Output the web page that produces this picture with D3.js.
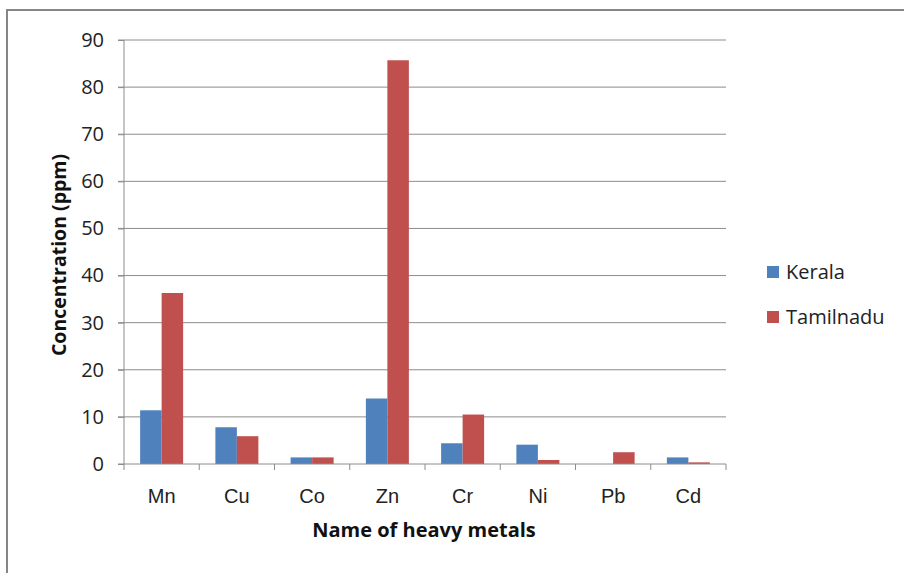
<!DOCTYPE html>
<html>
<head>
<meta charset="utf-8">
<script src="https://cdn.jsdelivr.net/npm/d3@7"></script>
<style>
  html, body { margin: 0; padding: 0; background: #fff; }
  svg { display: block; font-family: "Open Sans", "Noto Sans", sans-serif; }
</style>
</head>
<body>
<svg id="chart" width="904" height="573"></svg>
<script>
// Heavy metal concentrations (ppm) by state
const metals = ["Mn", "Cu", "Co", "Zn", "Cr", "Ni", "Pb", "Cd"];
const kerala = [11.4, 7.8, 1.4, 13.9, 4.4, 4.1, 0, 1.4];
const tamilnadu = [36.3, 5.9, 1.4, 85.7, 10.5, 0.85, 2.5, 0.35];
const seriesNames = ["Kerala", "Tamilnadu"];
const seriesColors = ["#4F81BD", "#C0504D"];
const yTicks = [0, 10, 20, 30, 40, 50, 60, 70, 80, 90];

const svg = d3.select("#chart");

// outer chart frame
svg.append("path")
  .attr("d", "M7,573 V10 H904")
  .attr("fill", "none")
  .attr("stroke", "#868686")
  .attr("stroke-width", 2);

const plot = { left: 124, right: 726, top: 40, bottom: 464 };

const x = d3.scaleBand().domain(metals).range([plot.left, plot.right]);
const y = d3.scaleLinear().domain([0, 90]).range([plot.bottom, plot.top]);

// horizontal gridlines
svg.append("g")
  .selectAll("line")
  .data(yTicks.filter(d => d > 0))
  .join("line")
  .attr("x1", plot.left - 6)
  .attr("x2", plot.right)
  .attr("y1", d => y(d))
  .attr("y2", d => y(d))
  .attr("stroke", "#8c8c8c")
  .attr("stroke-width", 1);

// bars: two per category, Excel-style 150% gap
const barW = x.bandwidth() / 3.5;
const inner = d3.scaleBand().domain(seriesNames)
  .range([0.75 * barW, 2.75 * barW]);
const seriesData = [kerala, tamilnadu];

seriesNames.forEach((name, si) => {
  svg.append("g")
    .selectAll("rect")
    .data(metals.map((m, i) => ({ m, v: seriesData[si][i] })))
    .join("rect")
    .attr("x", d => x(d.m) + inner(name))
    .attr("y", d => y(d.v))
    .attr("width", inner.bandwidth())
    .attr("height", d => y(0) - y(d.v))
    .attr("fill", seriesColors[si]);
});

// y axis
const yAxis = svg.append("g")
  .attr("transform", `translate(${plot.left},0)`)
  .call(d3.axisLeft(y).tickValues(yTicks).tickSize(6).tickPadding(14));
yAxis.select(".domain").attr("stroke", "#8c8c8c").attr("d", `M0,${plot.top}V${plot.bottom}`);
yAxis.selectAll(".tick line").attr("stroke", "#8c8c8c");
yAxis.selectAll(".tick text")
  .attr("font-size", 20)
  .attr("fill", "#222")
  .style("font-family", "'Open Sans', sans-serif");

// x axis
const xAxis = svg.append("g")
  .attr("transform", `translate(0,${plot.bottom})`)
  .call(d3.axisBottom(x).tickSize(0).tickPadding(25));
xAxis.select(".domain").attr("stroke", "#8c8c8c").attr("d", `M${plot.left - 6},0H${plot.right}`);
xAxis.selectAll(".tick text")
  .attr("font-size", 20)
  .attr("fill", "#222");

// category separators on the x axis
svg.append("g")
  .selectAll("line")
  .data(metals.map((m, i) => i).concat([metals.length]))
  .join("line")
  .attr("x1", i => i < metals.length ? x(metals[i]) : plot.right)
  .attr("x2", i => i < metals.length ? x(metals[i]) : plot.right)
  .attr("y1", plot.bottom)
  .attr("y2", plot.bottom + 6)
  .attr("stroke", "#8c8c8c");

// axis titles
svg.append("text")
  .attr("x", 424)
  .attr("y", 537)
  .attr("text-anchor", "middle")
  .attr("font-size", 20)
  .attr("font-weight", "bold")
  .attr("fill", "#111")
  .text("Name of heavy metals");

svg.append("text")
  .attr("transform", "translate(66,255) rotate(-90)")
  .attr("text-anchor", "middle")
  .attr("font-size", 19.5)
  .attr("font-weight", "bold")
  .attr("fill", "#111")
  .text("Concentration (ppm)");

// legend
const legend = svg.append("g");
seriesNames.forEach((name, i) => {
  const ly = 272 + i * 45;
  legend.append("rect")
    .attr("x", 767).attr("y", ly - 6)
    .attr("width", 12).attr("height", 12)
    .attr("fill", seriesColors[i]);
  legend.append("text")
    .attr("x", 786).attr("y", ly)
    .attr("dy", "0.35em")
    .attr("font-size", 20)
    .attr("fill", "#222")
    .text(name);
});
</script>
</body>
</html>
